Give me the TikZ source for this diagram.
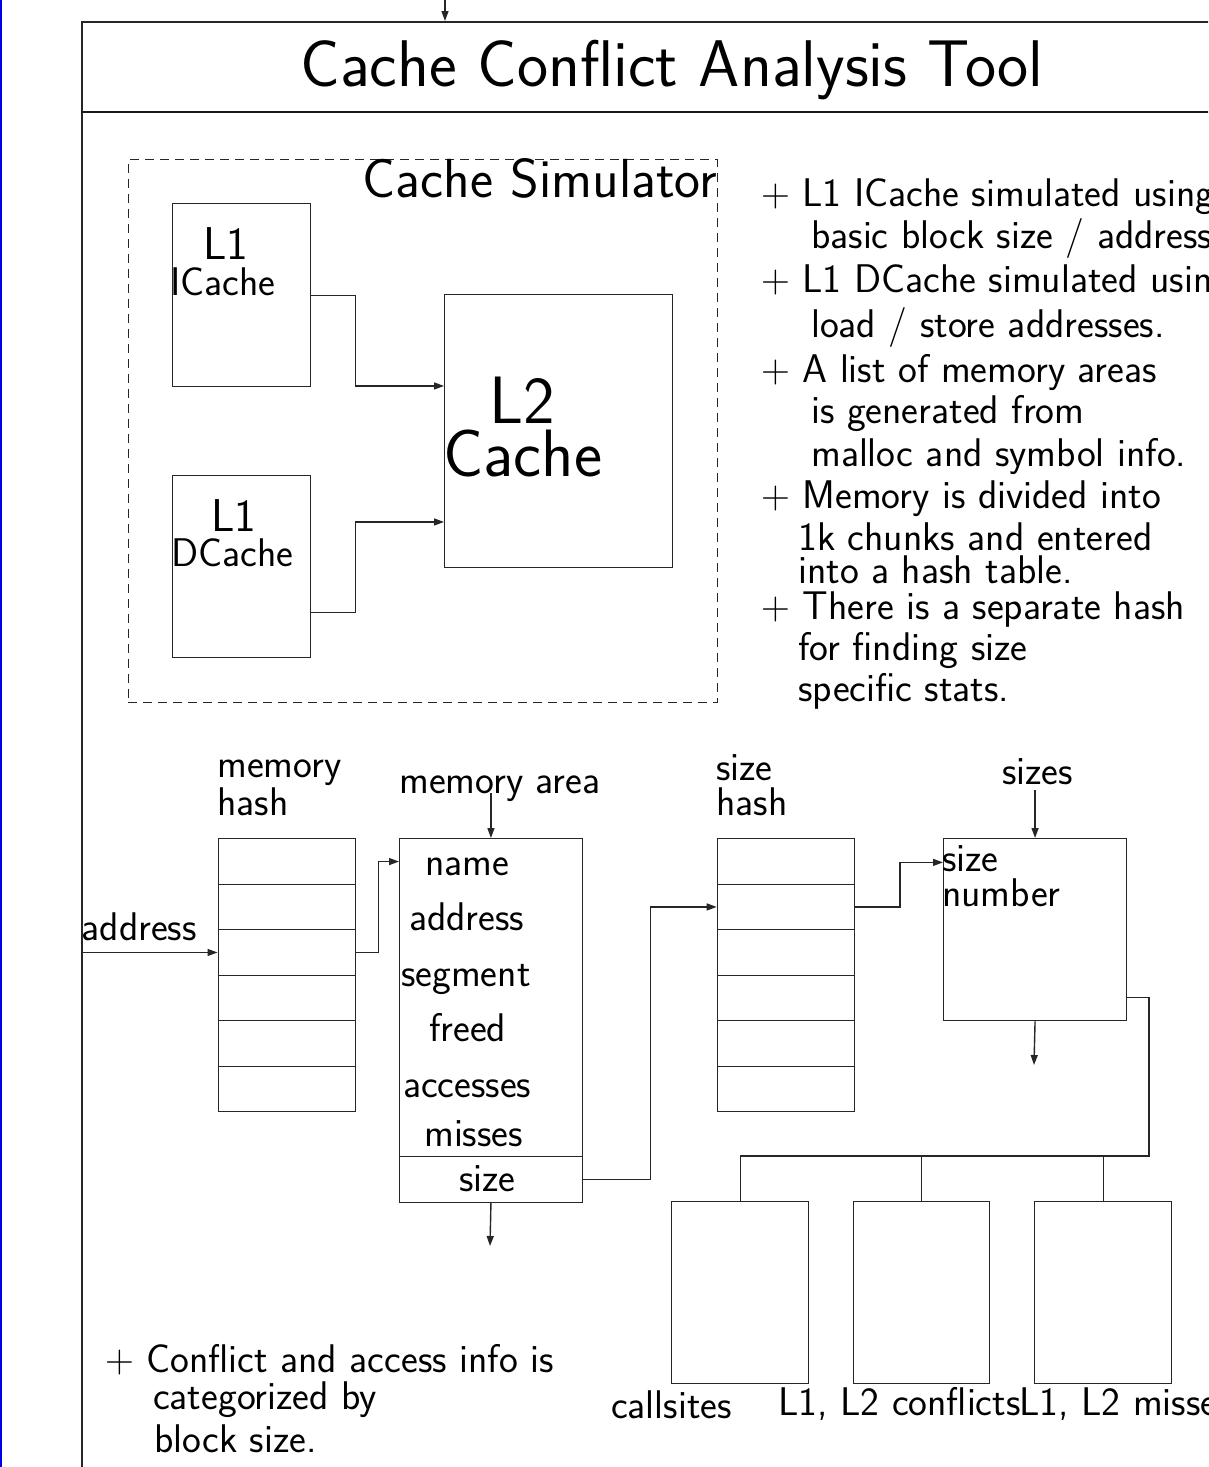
\documentclass[tikz,border=0pt]{standalone}
\usepackage{fontspec}
\usetikzlibrary{arrows.meta}

\newcommand{\titlefont}{\sffamily\fontsize{66}{72}\selectfont}
\newcommand{\simfont}{\sffamily\fontsize{55}{62}\selectfont}
\newcommand{\ltwofont}{\sffamily\fontsize{67}{72}\selectfont}
\newcommand{\lonefont}{\sffamily\fontsize{46}{52}\selectfont}
\newcommand{\cachefont}{\sffamily\fontsize{40}{46}\selectfont}
\newcommand{\txtfont}{\sffamily\fontsize{40}{46}\selectfont}
\newcommand{\plus}{{\rmfamily +}}

\begin{document}
\begin{tikzpicture}[x=1pt, y=-1pt,
    box/.style={draw=black!85, line width=1.4pt, inner sep=0pt},
    cell/.style={box, minimum width=137, minimum height=45.5, anchor=north west},
    lbl/.style={inner sep=0pt, anchor=base west, font=\txtfont},
    arr/.style={draw=black!85, line width=1.4pt, -{Triangle[length=10pt,width=7pt]}},
    wire/.style={draw=black!85, line width=1.4pt}]
    \useasboundingbox (0,0) rectangle (1208,1467);
    \clip (0,0) rectangle (1208,1467);

    %edge
    \draw[blue!90!black, line width=2.5pt] (1.2,0) -- (1.2,1467);

    %tool frame
    \node[box, line width=1.8pt, minimum width=1300, minimum height=1600, anchor=north west] (tool) at (81,21) {};
    \draw[black!90, line width=2.6pt] (81,112) -- (1300,112);
    \node[inner sep=0pt, anchor=base, font=\titlefont] (title) at (672,86) {Cache Conflict Analysis Tool};
    \coordinate (toolin) at (445,0);
    \draw[arr] (toolin) -- (toolin |- tool.north);

    %cache simulator
    \node[box, dash pattern=on 9pt off 6pt, line width=1.2pt, minimum width=589, minimum height=543, anchor=north west] (sim) at (127.5,159) {};
    \node[inner sep=0pt, anchor=base east, font=\simfont] (simname) at (717,197) {Cache Simulator};
    \node[box, minimum width=137.5, minimum height=183, anchor=north west] (icache) at (172,203) {};
    \node[box, minimum width=137.5, minimum height=182, anchor=north west] (dcache) at (172,475) {};
    \node[box, minimum width=228, minimum height=273.5, anchor=north west] (l2) at (444,293.5) {};
    \node[lbl, font=\lonefont] (ilone) at (203,259) {L1};
    \node[lbl, font=\cachefont] (iname) at (170,295) {ICache};
    \node[lbl, font=\lonefont] (dlone) at (211,531) {L1};
    \node[lbl, font=\cachefont] (dname) at (171,566) {DCache};
    \node[lbl, font=\ltwofont] (ltwo) at (489,423) {L2};
    \node[lbl, font=\ltwofont] (ltwoname) at (443,476) {Cache};
    \draw[arr] (icache.east) -- ++(44.5,0) |- ([yshift=45pt]l2.west);
    \draw[arr] ([yshift=-46pt]dcache.east) -- ++(44.5,0) |- ([yshift=-91pt]l2.west);

    %notes
    \node[lbl] (n1) at (761,206) {\plus{} L1 ICache simulated using};
    \node[lbl] (n2) at (811,248) {basic block size / address};
    \node[lbl] (n3) at (761,292) {\plus{} L1 DCache simulated using};
    \node[lbl] (n4) at (811,337) {load / store addresses.};
    \node[lbl] (n5) at (761,382) {\plus{} A list of memory areas};
    \node[lbl] (n6) at (811,423) {is generated from};
    \node[lbl] (n7) at (811,466) {malloc and symbol info.};
    \node[lbl] (n8) at (761,508) {\plus{} Memory is divided into};
    \node[lbl] (n9) at (798,550) {1k chunks and entered};
    \node[lbl] (n10) at (798,583.5) {into a hash table.};
    \node[lbl] (n11) at (761,619) {\plus{} There is a separate hash};
    \node[lbl] (n12) at (798,660) {for finding size};
    \node[lbl] (n13) at (798,701) {specific stats.};

    %memory hash
    \node[lbl] (mhname) at (217,777) {memory};
    \node[lbl] (mhname2) at (217,815) {hash};
    \foreach \i in {0,...,5}
        \node[cell] (mh\i) at (217.5,{838+45.5*\i}) {};
    \node[lbl] (addr) at (81.5,940) {address};
    \draw[arr] (tool.west |- mh2.west) -- (mh2.west);

    %memory area
    \node[lbl] (maname) at (399,793) {memory area};
    \node[box, minimum width=182.5, minimum height=317.7, anchor=north west] (memarea) at (399,838) {};
    \node[box, minimum width=182.5, minimum height=46, anchor=north west] (sizefld) at (399,1155.7) {};
    \node[lbl] (f1) at (425,875) {name};
    \node[lbl] (f2) at (409,930) {address};
    \node[lbl] (f3) at (401,986) {segment};
    \node[lbl] (f4) at (429,1041) {freed};
    \node[lbl] (f5) at (403,1097) {accesses};
    \node[lbl] (f6) at (424,1146.7) {misses};
    \node[lbl] (f7) at (459,1191.7) {size};
    \draw[arr] (mh2.east) -- ++(22.5,0) |- ([yshift=136pt]memarea.west);
    \draw[arr] (maname.base -| memarea.north) -- (memarea.north);
    \coordinate (maout) at (490,1246);
    \draw[arr] (sizefld.south) -- (maout);

    %size hash
    \node[lbl] (shname) at (716,780) {size};
    \node[lbl] (shname2) at (716,815) {hash};
    \foreach \i in {0,...,5}
        \node[cell] (sh\i) at (716.7,{838+45.5*\i}) {};
    \draw[arr] (sizefld.east) -- ++(67.5,0) |- (sh1.west);

    %sizes
    \node[lbl] (szname) at (1002,784) {sizes};
    \node[box, minimum width=182.7, minimum height=182, anchor=north west] (szbox) at (943,838) {};
    \node[lbl] (szf1) at (942,871.7) {size};
    \node[lbl] (szf2) at (942,906.7) {number};
    \draw[arr] (sh1.east) -- ++(45,0) |- ([yshift=67.3pt]szbox.west);
    \path (szname.base -| szbox.north) coordinate (szin);
    \draw[arr] ([yshift=-6pt]szin) -- (szbox.north);
    \coordinate (szout) at (1034,1065);
    \draw[arr] (szbox.south) -- (szout);

    %results
    \node[box, minimum width=137, minimum height=182.3, anchor=north west] (callbox) at (671,1200.7) {};
    \node[box, minimum width=136.5, minimum height=182.3, anchor=north west] (confbox) at (852.5,1200.7) {};
    \node[box, minimum width=137, minimum height=182.3, anchor=north west] (missbox) at (1034,1200.7) {};
    \node[lbl] (callname) at (611,1418) {callsites};
    \node[lbl] (confname) at (778,1415) {L1, L2 conflicts};
    \node[lbl] (missname) at (1019,1415) {L1, L2 misses};
    \draw[wire] ([yshift=-68pt]szbox.east) -- ++(22,0) |- ([yshift=44.7pt]callbox.north) -- (callbox.north);
    \draw[wire] ([yshift=44.7pt]confbox.north) -- (confbox.north);
    \draw[wire] ([yshift=44.7pt]missbox.north) -- (missbox.north);

    %bottom note
    \node[lbl] (note1) at (105,1372.5) {\plus{} Conflict and access info is};
    \node[lbl] (note2) at (153,1409) {categorized by};
    \node[lbl] (note3) at (154,1452) {block size.};
\end{tikzpicture}
\end{document}
